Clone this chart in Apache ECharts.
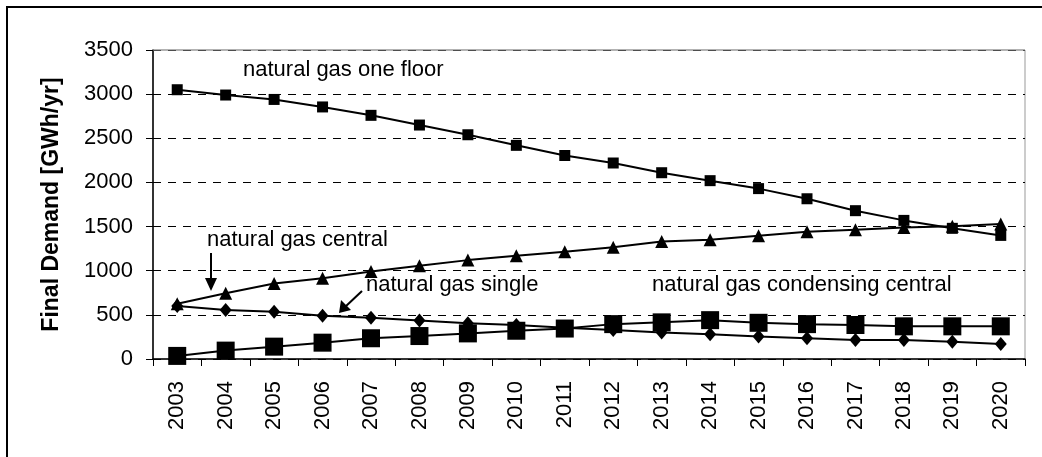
<!DOCTYPE html>
<html>
<head>
<meta charset="utf-8">
<script src="https://cdn.jsdelivr.net/npm/echarts@6/dist/echarts.min.js"></script>
<style>
  html, body { margin: 0; padding: 0; background: #fff; }
</style>
</head>
<body>
<div id="chart" style="width: 1042px; height: 457px;"></div>
<script>
// years on the category axis
const years = ['2003', '2004', '2005', '2006', '2007', '2008', '2009', '2010', '2011',
  '2012', '2013', '2014', '2015', '2016', '2017', '2018', '2019', '2020']

// final demand, GWh/yr
const oneFloor = [3050, 2990, 2940, 2855, 2760, 2650, 2540, 2420, 2305, 2220, 2110, 2020, 1930, 1815, 1680, 1570, 1480, 1400]
const central = [625, 745, 855, 915, 990, 1055, 1120, 1170, 1215, 1265, 1330, 1350, 1395, 1440, 1465, 1490, 1505, 1530]
const single = [600, 555, 535, 490, 468, 435, 405, 385, 355, 328, 300, 280, 255, 235, 215, 215, 195, 170]
const condensing = [35, 95, 140, 185, 235, 260, 290, 320, 345, 395, 415, 440, 410, 395, 385, 370, 370, 370]

const font = "'Liberation Sans', Arial, sans-serif"

let myChart = echarts.init(document.getElementById('chart'))

function lineSeries (name, data, symbol, size) {
  return {
    name: name,
    type: 'line',
    data: data,
    symbol: symbol,
    symbolSize: size,
    showSymbol: true,
    itemStyle: { color: '#000' },
    lineStyle: { color: '#000', width: 2 },
    emphasis: { disabled: true },
    animation: false
  }
}

myChart.setOption({
  animation: false,
  backgroundColor: '#fff',
  textStyle: { fontFamily: font },
  grid: {
    left: 153,
    top: 50,
    right: 17,
    bottom: 98,
    show: true,
    borderColor: '#999',
    borderWidth: 1,
    backgroundColor: '#fff'
  },
  xAxis: {
    type: 'category',
    data: years,
    boundaryGap: true,
    axisLine: { lineStyle: { color: '#000', width: 1.5 } },
    axisTick: { show: true, length: 7, lineStyle: { color: '#000' } },
    axisLabel: {
      rotate: 90,
      margin: 22,
      color: '#000',
      fontSize: 22,
      fontFamily: font
    }
  },
  yAxis: {
    type: 'value',
    min: 0,
    max: 3500,
    interval: 500,
    name: 'Final Demand [GWh/yr]',
    nameLocation: 'middle',
    nameGap: 90,
    nameTextStyle: { color: '#000', fontSize: 23, fontWeight: 'bold', fontFamily: font },
    axisLine: { show: true, lineStyle: { color: '#000', width: 1.5 } },
    axisTick: { show: true, length: 7, lineStyle: { color: '#000' } },
    axisLabel: {
      margin: 20,
      color: '#000',
      fontSize: 22,
      fontFamily: font,
      formatter: function (v) { return String(v) }
    },
    splitLine: {
      show: true,
      lineStyle: { color: '#000', width: 1, type: [8, 7] }
    }
  },
  series: [
    lineSeries('natural gas one floor', oneFloor, 'rect', 11),
    lineSeries('natural gas central', central, 'triangle', 13),
    lineSeries('natural gas single', single, 'diamond', [12, 14]),
    lineSeries('natural gas condensing central', condensing, 'rect', 18)
  ],
  graphic: [
    // outer frame
    { type: 'rect', z: 100, shape: { x: 7, y: 7, width: 1100, height: 500 },
      style: { fill: null, stroke: '#000', lineWidth: 2 } },
    // top edge of plot area (grey, over the dashed line at 3500)
    { type: 'line', z: 100, shape: { x1: 153, y1: 50, x2: 1025, y2: 50 },
      style: { stroke: '#999', lineWidth: 1 } },
    // labels
    { type: 'text', z: 100, left: 243, top: 59,
      style: { text: 'natural gas one floor', fill: '#000', font: '22px ' + font } },
    { type: 'text', z: 100, left: 207, top: 229,
      style: { text: 'natural gas central', fill: '#000', font: '22px ' + font } },
    { type: 'text', z: 100, left: 366, top: 274,
      style: { text: 'natural gas single', fill: '#000', font: '22px ' + font } },
    { type: 'text', z: 100, left: 652, top: 274,
      style: { text: 'natural gas condensing central', fill: '#000', font: '22px ' + font } },
    // arrow to the central line
    { type: 'line', z: 100, shape: { x1: 211, y1: 253, x2: 211, y2: 280 },
      style: { stroke: '#000', lineWidth: 2 } },
    { type: 'polygon', z: 100, shape: { points: [[205, 278], [217, 278], [211, 291]] },
      style: { fill: '#000' } },
    // arrow to the single line
    { type: 'line', z: 100, shape: { x1: 362, y1: 291, x2: 345, y2: 307 },
      style: { stroke: '#000', lineWidth: 2 } },
    { type: 'polygon', z: 100, shape: { points: [[339, 313], [341, 300], [351, 310]] },
      style: { fill: '#000' } }
  ]
})
</script>
</body>
</html>
